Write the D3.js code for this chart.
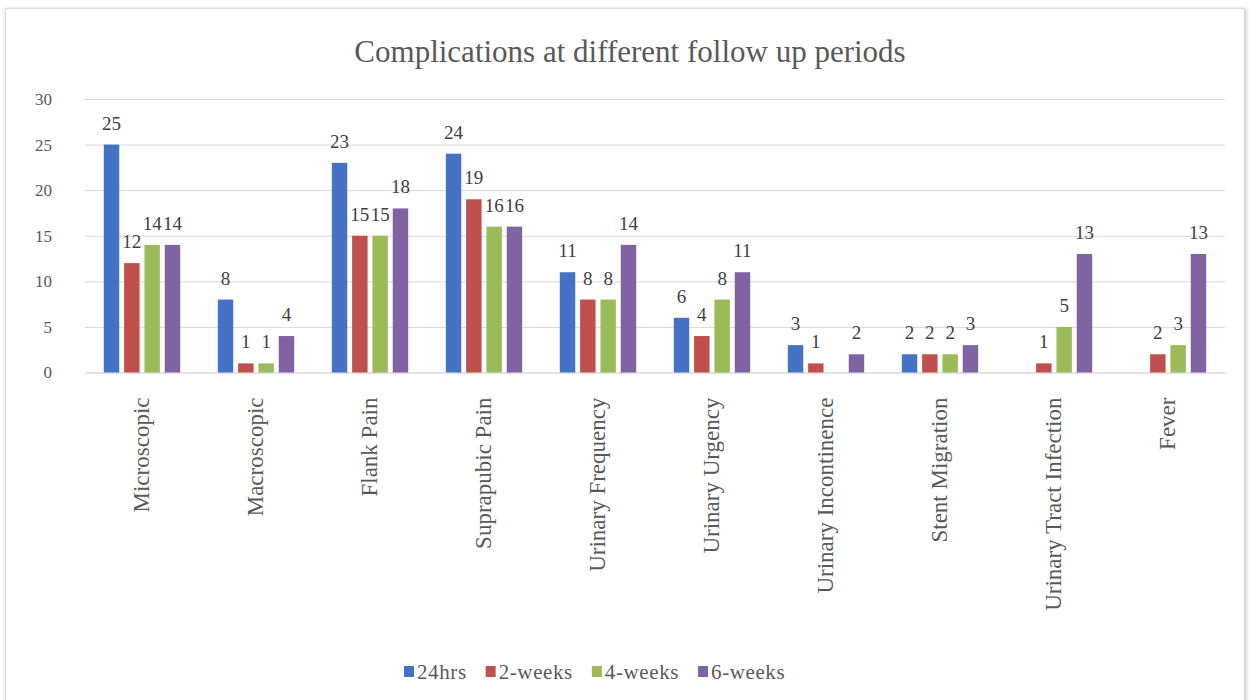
<!DOCTYPE html>
<html>
<head>
<meta charset="utf-8">
<script src="https://cdn.jsdelivr.net/npm/d3@7"></script>
<style>
  html, body { margin: 0; padding: 0; background: #ffffff; }
  svg { display: block; }
  text { font-family: "Liberation Serif", "Times New Roman", serif; }
</style>
</head>
<body>
<svg id="chart" width="1251" height="700"></svg>
<script>
// ---- data ----
const categories = ["Microscopic", "Macroscopic", "Flank Pain", "Suprapubic Pain", "Urinary Frequency",
  "Urinary Urgency", "Urinary Incontinence", "Stent Migration", "Urinary Tract Infection", "Fever"];
const seriesNames = ["24hrs", "2-weeks", "4-weeks", "6-weeks"];
const hrs24   = [25, 8, 23, 24, 11, 6, 3, 2, null, null];
const weeks2  = [12, 1, 15, 19, 8, 4, 1, 2, 1, 2];
const weeks4  = [14, 1, 15, 16, 8, 8, null, 2, 5, 3];
const weeks6  = [14, 4, 18, 16, 14, 11, 2, 3, 13, 13];
const yTicks  = [0, 5, 10, 15, 20, 25, 30];
const titleText = "Complications at different follow up periods";

const seriesValues = [hrs24, weeks2, weeks4, weeks6];
const colors = ["#4472C4", "#C0504D", "#9BBB59", "#8064A2"];

const svg = d3.select("#chart");

// outer chart frame with soft shadow
const defs = svg.append("defs");
const f = defs.append("filter").attr("id", "sh").attr("x", "-5%").attr("y", "-5%").attr("width", "110%").attr("height", "110%");
f.append("feGaussianBlur").attr("in", "SourceAlpha").attr("stdDeviation", 2);
f.append("feOffset").attr("dx", 1).attr("dy", 1).attr("result", "b");
f.append("feComponentTransfer").append("feFuncA").attr("type", "linear").attr("slope", 0.25);
const fm = f.append("feMerge");
fm.append("feMergeNode");
fm.append("feMergeNode").attr("in", "SourceGraphic");

svg.append("rect")
  .attr("x", 5.5).attr("y", 8.5).attr("width", 1239).attr("height", 700)
  .attr("fill", "#ffffff").attr("stroke", "#d9d9d9").attr("stroke-width", 1)
  .attr("filter", "url(#sh)");

// scales
const plotLeft = 85, plotRight = 1225, plotTop = 99, plotBottom = 372.5;
const x0 = d3.scaleBand().domain(categories).range([plotLeft, plotRight]).paddingInner(0.33).paddingOuter(0.165);
const x1 = d3.scaleBand().domain(seriesNames).range([0, x0.bandwidth()]).paddingInner(0.24);
const y = d3.scaleLinear().domain([0, 30]).range([plotBottom, plotTop]);

// title
svg.append("text")
  .attr("x", 630).attr("y", 62)
  .attr("text-anchor", "middle")
  .attr("font-size", 31)
  .attr("fill", "#595959")
  .text(titleText);

// gridlines
const yAxis = d3.axisLeft(y).tickValues(yTicks).tickSize(-(plotRight - plotLeft)).tickPadding(33);
const gy = svg.append("g").attr("transform", `translate(${plotLeft},0)`).call(yAxis);
gy.select(".domain").remove();
gy.selectAll(".tick line").attr("stroke", "#d9d9d9").attr("stroke-width", 1);
gy.selectAll(".tick text")
  .attr("font-family", "Liberation Serif, serif")
  .attr("font-size", 17)
  .attr("fill", "#595959");

// x axis baseline and labels
const xAxis = d3.axisBottom(x0).tickSize(0).tickPadding(0);
const gx = svg.append("g").attr("transform", `translate(0,${plotBottom})`).call(xAxis);
gx.select(".domain").attr("stroke", "#d9d9d9");
gx.selectAll(".tick text")
  .attr("font-family", "Liberation Serif, serif")
  .attr("font-size", 23)
  .attr("fill", "#595959")
  .attr("text-anchor", "end")
  .attr("transform", "translate(0,25) rotate(-90)")
  .attr("x", 0).attr("y", 0)
  .attr("dy", "0.3em");

// bars
const groups = svg.append("g").selectAll("g")
  .data(categories)
  .join("g")
  .attr("transform", d => `translate(${x0(d)},0)`);

groups.selectAll("rect")
  .data((c, i) => seriesNames.map((s, k) => ({ s, k, v: seriesValues[k][i] })).filter(d => d.v != null))
  .join("rect")
  .attr("x", d => x1(d.s))
  .attr("width", x1.bandwidth())
  .attr("y", d => y(d.v))
  .attr("height", d => y(0) - y(d.v))
  .attr("fill", d => colors[d.k]);

groups.selectAll("text.lbl")
  .data((c, i) => seriesNames.map((s, k) => ({ s, k, v: seriesValues[k][i] })).filter(d => d.v != null))
  .join("text")
  .attr("class", "lbl")
  .attr("x", d => x1(d.s) + x1.bandwidth() / 2)
  .attr("y", d => y(d.v) - 15)
  .attr("text-anchor", "middle")
  .attr("font-size", 19)
  .attr("fill", "#404040")
  .text(d => d.v);

// legend
const legend = svg.append("g").attr("transform", "translate(404,0)");
let lx = 0;
seriesNames.forEach((s, k) => {
  const g = legend.append("g").attr("transform", `translate(${lx},0)`);
  g.append("rect").attr("x", 0).attr("y", 666).attr("width", 10).attr("height", 11).attr("fill", colors[k]);
  const t = g.append("text").attr("x", 13).attr("y", 679)
    .attr("font-size", 21).attr("letter-spacing", 0.6).attr("fill", "#595959").text(s);
  lx += 13 + t.node().getComputedTextLength() + 19;
});
</script>
</body>
</html>
